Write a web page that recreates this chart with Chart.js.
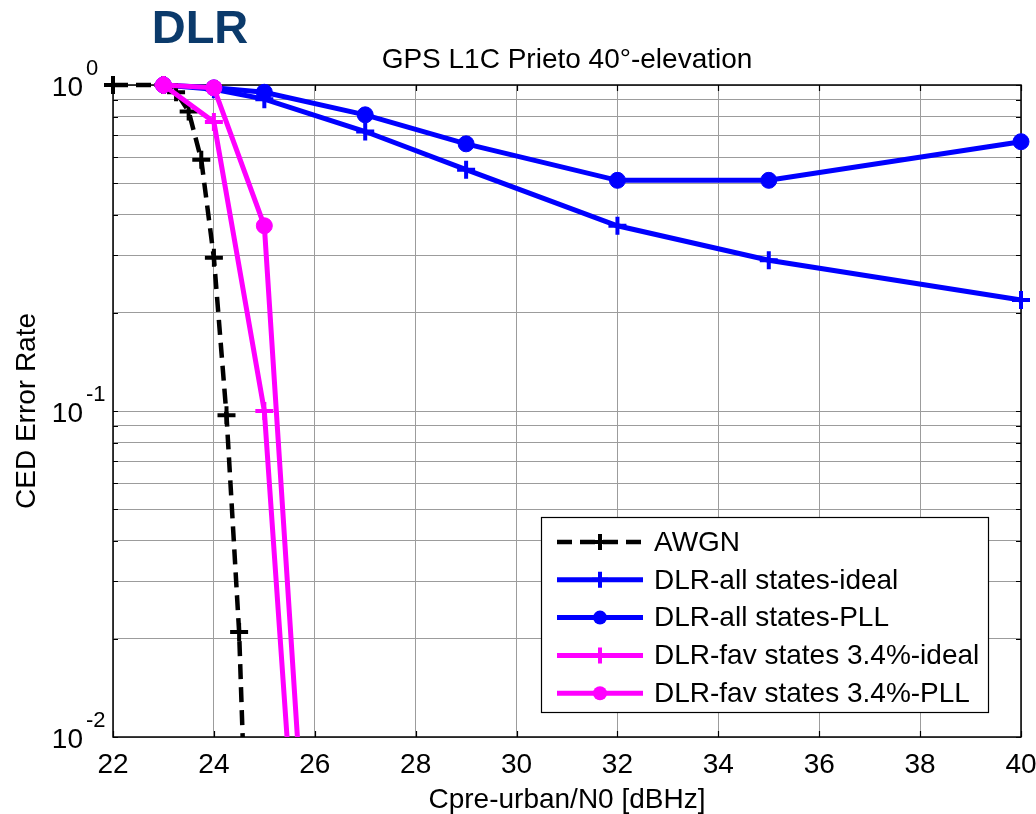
<!DOCTYPE html>
<html>
<head>
<meta charset="utf-8">
<script src="https://cdn.jsdelivr.net/npm/chart.js@4.4.1/dist/chart.umd.min.js"></script>
<style>
  html, body { margin: 0; padding: 0; background: #fff; }
  #wrap { width: 1036px; height: 814px; }
</style>
</head>
<body>
<div id="wrap"><canvas id="chart" width="1036" height="814"></canvas></div>
<script>
// --- data ---
const awgnX = [22, 23, 23.25, 23.5, 23.75, 24, 24.25, 24.5, 24.75];
const awgnY = [1.0, 1.0, 0.95, 0.83, 0.59, 0.295, 0.097, 0.021, 0.0015];

const allIdealX = [23, 24, 25, 27, 29, 32, 35, 40];
const allIdealY = [1.0, 0.97, 0.905, 0.72, 0.55, 0.37, 0.29, 0.219];

const allPllX = [23, 24, 25, 27, 29, 32, 35, 40];
const allPllY = [1.0, 0.98, 0.95, 0.81, 0.66, 0.51, 0.51, 0.67];

const favIdealX = [23, 24, 25, 26];
const favIdealY = [1.0, 0.77, 0.1, 0.0006];

const favPllX = [23, 24, 25, 26];
const favPllY = [1.0, 0.98, 0.37, 0.0015];

const seriesLabels = ['AWGN', 'DLR-all states-ideal', 'DLR-all states-PLL',
  'DLR-fav states 3.4%-ideal', 'DLR-fav states 3.4%-PLL'];

const xTicks = [22, 24, 26, 28, 30, 32, 34, 36, 38, 40];
const yTicks = [0.01, 0.02, 0.03, 0.04, 0.05, 0.06, 0.07, 0.08, 0.09,
  0.1, 0.2, 0.3, 0.4, 0.5, 0.6, 0.7, 0.8, 0.9, 1];
const yMajor = [{ v: 1, exp: '0' }, { v: 0.1, exp: '-1' }, { v: 0.01, exp: '-2' }];

const FONT = '"Liberation Sans", Arial, sans-serif';
const BLUE = '#0000ff';
const MAGENTA = '#ff00ff';
const GRID = '#9c9c9c';

const pts = (xs, ys) => xs.map((x, i) => ({ x, y: ys[i] }));

function series(label, xs, ys, color, style, order, dashed) {
  return {
    label,
    data: pts(xs, ys),
    borderColor: color,
    backgroundColor: color,
    borderWidth: dashed ? 4.5 : 5,
    borderDash: dashed ? [15, 8] : [],
    pointStyle: style,
    pointRadius: style === 'circle' ? 8 : 9,
    pointBorderWidth: style === 'circle' ? 1 : 4,
    pointBorderColor: color,
    pointBackgroundColor: color,
    tension: 0,
    order,
    clip: { left: 30, top: 30, right: 30, bottom: 0 }
  };
}

const datasets = [
  series(seriesLabels[0], awgnX, awgnY, '#000000', 'cross', 1, true),
  series(seriesLabels[1], allIdealX, allIdealY, BLUE, 'cross', 2, false),
  series(seriesLabels[2], allPllX, allPllY, BLUE, 'circle', 2, false),
  series(seriesLabels[3], favIdealX, favIdealY, MAGENTA, 'cross', 0, false),
  series(seriesLabels[4], favPllX, favPllY, MAGENTA, 'circle', 0, false)
];

// --- frame + inward ticks (MATLAB style box) ---
const framePlugin = {
  id: 'frame',
  beforeDatasetsDraw(chart) {
    const { ctx, chartArea: a, scales } = chart;
    ctx.save();
    ctx.strokeStyle = '#000';
    ctx.lineWidth = 1.5;
    ctx.strokeRect(a.left, a.top, a.right - a.left, a.bottom - a.top);
    ctx.lineWidth = 1.2;
    ctx.beginPath();
    xTicks.forEach(v => {
      const px = Math.round(scales.x.getPixelForValue(v)) + 0.5;
      ctx.moveTo(px, a.bottom); ctx.lineTo(px, a.bottom - 6);
      ctx.moveTo(px, a.top); ctx.lineTo(px, a.top + 6);
    });
    yTicks.forEach(v => {
      const py = Math.round(scales.y.getPixelForValue(v)) + 0.5;
      ctx.moveTo(a.left, py); ctx.lineTo(a.left + 5, py);
      ctx.moveTo(a.right, py); ctx.lineTo(a.right - 5, py);
    });
    ctx.stroke();
    ctx.restore();
  }
};

// --- texts: DLR logo, title, y labels with exponents, axis titles ---
const textPlugin = {
  id: 'texts',
  afterDraw(chart) {
    const { ctx, chartArea: a, scales } = chart;
    const cx = (a.left + a.right) / 2;
    ctx.save();
    ctx.fillStyle = '#0b3a6b';
    ctx.font = 'bold 47px ' + FONT;
    ctx.textAlign = 'center';
    ctx.textBaseline = 'alphabetic';
    ctx.fillText('DLR', 200, 43);

    ctx.fillStyle = '#000';
    ctx.font = '28px ' + FONT;
    ctx.fillText('GPS L1C Prieto 40°-elevation', cx, 68);
    ctx.fillText('Cpre-urban/N0 [dBHz]', cx, 808);

    ctx.save();
    ctx.translate(35, (a.top + a.bottom) / 2);
    ctx.rotate(-Math.PI / 2);
    ctx.fillText('CED Error Rate', 0, 0);
    ctx.restore();

    yMajor.forEach(t => {
      const py = scales.y.getPixelForValue(t.v);
      ctx.font = '28px ' + FONT;
      ctx.textAlign = 'right';
      ctx.fillText('10', a.left - 30, py + 10.5);
      ctx.font = '22px ' + FONT;
      ctx.textAlign = 'left';
      ctx.fillText(t.exp, a.left - 27, py - 10);
    });
    ctx.restore();
  }
};

// --- legend box, bottom right like the MATLAB figure ---
const legendPlugin = {
  id: 'boxLegend',
  afterDraw(chart) {
    const { ctx, chartArea: a } = chart;
    const right = a.right - 33, bottom = a.bottom - 25;
    const left = right - 447, top = bottom - 195;
    ctx.save();
    ctx.fillStyle = '#fff';
    ctx.fillRect(left, top, right - left, bottom - top);
    ctx.strokeStyle = '#000';
    ctx.lineWidth = 1.2;
    ctx.strokeRect(left + 0.5, top + 0.5, right - left, bottom - top);
    ctx.font = '28px ' + FONT;
    ctx.textBaseline = 'middle';
    ctx.textAlign = 'left';
    datasets.forEach((ds, i) => {
      const y = top + 25 + i * 37.8;
      ctx.strokeStyle = ds.borderColor;
      ctx.lineWidth = ds.borderWidth;
      ctx.setLineDash(ds.borderDash);
      ctx.beginPath();
      ctx.moveTo(left + 16, y);
      ctx.lineTo(left + 102, y);
      ctx.stroke();
      ctx.setLineDash([]);
      const mx = left + 59;
      if (ds.pointStyle === 'circle') {
        ctx.fillStyle = ds.borderColor;
        ctx.beginPath();
        ctx.arc(mx, y, 7, 0, Math.PI * 2);
        ctx.fill();
      } else {
        ctx.lineWidth = 4;
        ctx.beginPath();
        ctx.moveTo(mx - 8, y); ctx.lineTo(mx + 8, y);
        ctx.moveTo(mx, y - 8); ctx.lineTo(mx, y + 8);
        ctx.stroke();
      }
      ctx.fillStyle = '#000';
      ctx.fillText(ds.label, left + 113, y + 1);
    });
    ctx.restore();
  }
};

new Chart(document.getElementById('chart').getContext('2d'), {
  type: 'line',
  data: { datasets },
  options: {
    responsive: false,
    animation: false,
    events: [],
    layout: { padding: { top: 85, right: 15, left: 0, bottom: 0 } },
    plugins: { legend: { display: false }, tooltip: { enabled: false }, title: { display: false } },
    scales: {
      x: {
        type: 'linear',
        min: 22, max: 40,
        afterBuildTicks: (s) => { s.ticks = xTicks.map(v => ({ value: v })); },
        afterFit: (s) => { s.height = 77; s.paddingLeft = 0; s.paddingRight = 0; },
        grid: { color: GRID, lineWidth: 1, drawTicks: false },
        border: { display: false },
        ticks: { color: '#000', font: { family: FONT, size: 28 }, padding: 11, maxRotation: 0, autoSkip: false }
      },
      y: {
        type: 'logarithmic',
        min: 0.01, max: 1,
        afterBuildTicks: (s) => { s.ticks = yTicks.map(v => ({ value: v })); },
        afterFit: (s) => { s.width = 113; s.paddingTop = 0; s.paddingBottom = 0; },
        grid: { color: GRID, lineWidth: 1, drawTicks: false },
        border: { display: false },
        ticks: { display: false }
      }
    }
  },
  plugins: [framePlugin, textPlugin, legendPlugin]
});
</script>
</body>
</html>
